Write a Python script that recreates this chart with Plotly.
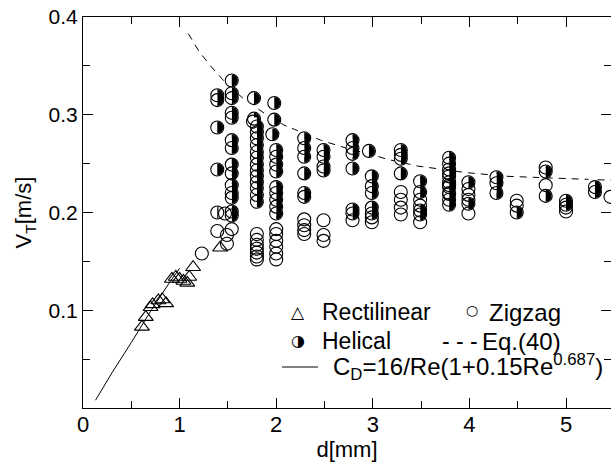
import plotly.graph_objects as go

# ---------------- data ----------------
rect_d = [0.61, 0.65, 0.70, 0.72, 0.78, 0.82, 0.86, 0.92, 0.96, 1.00, 1.04, 1.08, 1.10, 1.14, 1.42]
rect_v = [0.083, 0.093, 0.103, 0.106, 0.110, 0.111, 0.107, 0.132, 0.134, 0.132, 0.130, 0.128, 0.134, 0.144, 0.164]

zig_d = [1.23, 1.39, 1.49, 1.54, 1.49,
         1.76, 1.80, 1.80, 1.80, 1.80, 1.80, 1.80, 1.80,
         2.00, 2.00, 2.00, 2.00, 2.00, 2.00,
         2.29, 2.29, 2.29, 2.29,
         2.49, 2.49, 2.49,
         2.79,
         2.99, 2.99,
         3.29, 3.29, 3.29, 3.29,
         3.49, 3.49, 3.49,
         3.79, 3.79, 3.79,
         3.99, 3.99, 3.99, 3.99,
         4.49, 4.49,
         4.79, 4.79,
         5.00, 5.00,
         5.46]
zig_v = [0.158, 0.181, 0.177, 0.183, 0.168,
         0.293, 0.178, 0.172, 0.167, 0.163, 0.159, 0.155, 0.152,
         0.183, 0.178, 0.171, 0.165, 0.158, 0.152,
         0.193, 0.187, 0.182, 0.178,
         0.192, 0.177, 0.171,
         0.192,
         0.195, 0.190,
         0.221, 0.213, 0.205, 0.198,
         0.213, 0.207, 0.190,
         0.240, 0.228, 0.220,
         0.224, 0.218, 0.213, 0.199,
         0.212, 0.207,
         0.246, 0.228,
         0.205, 0.201,
         0.216]

hel_d = [1.39, 1.39, 1.39, 1.39, 1.39, 1.47,
         1.54, 1.54, 1.54, 1.54, 1.54, 1.54, 1.54, 1.54, 1.54, 1.54, 1.54, 1.54, 1.54, 1.54,
         1.77, 1.77, 1.80, 1.80, 1.80, 1.80, 1.80, 1.80, 1.80, 1.80, 1.80, 1.80, 1.80, 1.80, 1.80,
         1.98, 1.98, 1.96, 2.00, 2.00, 2.00, 2.00, 2.00, 2.00, 2.00, 2.00, 2.00,
         2.29, 2.29, 2.29, 2.29, 2.29, 2.29,
         2.49, 2.49, 2.49, 2.49,
         2.79, 2.79, 2.79, 2.79, 2.79, 2.79,
         2.96,
         2.99, 2.99, 2.99, 2.99, 2.99,
         3.29, 3.29, 3.29, 3.29,
         3.49, 3.49, 3.49, 3.49,
         3.79, 3.79, 3.79, 3.79, 3.79, 3.79, 3.79, 3.79, 3.79,
         3.99, 3.99,
         4.28, 4.28, 4.28,
         4.49,
         4.79, 4.79,
         5.00, 5.00,
         5.30, 5.30]
hel_v = [0.320, 0.315, 0.287, 0.244, 0.200, 0.199,
         0.335, 0.322, 0.317, 0.302, 0.297, 0.274, 0.266, 0.249, 0.240, 0.228, 0.220, 0.215, 0.201, 0.197,
         0.317, 0.296, 0.288, 0.282, 0.276, 0.269, 0.262, 0.256, 0.249, 0.243, 0.237, 0.231, 0.225, 0.218, 0.211,
         0.312, 0.295, 0.280, 0.264, 0.257, 0.249, 0.242, 0.226, 0.220, 0.213, 0.206, 0.199,
         0.276, 0.266, 0.257, 0.240, 0.220, 0.216,
         0.264, 0.257, 0.247, 0.243,
         0.274, 0.266, 0.260, 0.245, 0.203, 0.199,
         0.263,
         0.237, 0.227, 0.220, 0.205, 0.199,
         0.264, 0.259, 0.255, 0.240,
         0.232, 0.221, 0.202, 0.198,
         0.256, 0.250, 0.244, 0.237, 0.231, 0.226, 0.219, 0.213, 0.208,
         0.231, 0.209,
         0.236, 0.230, 0.220,
         0.200,
         0.242, 0.217,
         0.212, 0.208,
         0.226, 0.221]

eq40_d = [1.09, 1.20, 1.32, 1.50, 1.68, 1.90, 2.08, 2.30, 2.46, 2.73, 3.00, 3.15, 3.46, 3.975, 4.40, 4.66, 5.00, 5.47]
eq40_v = [0.383, 0.365, 0.350, 0.330, 0.315, 0.300, 0.2895, 0.281, 0.274, 0.2657, 0.259, 0.2544, 0.2476, 0.2407, 0.237, 0.236, 0.2345, 0.233]

cd_d = [0.13, 0.30, 0.50, 0.70, 0.90, 1.00]
cd_v = [0.008, 0.036, 0.067, 0.099, 0.129, 0.143]

x_ticks = [0, 1, 2, 3, 4, 5]
y_ticks = [0.1, 0.2, 0.3, 0.4]

# ---------------- figure ----------------
W, H = 611, 464
ML, MR, MT, MB = 83, 0, 17, 56
PW, PH = W - ML - MR, H - MT - MB
FONT = "Liberation Sans, Arial, Helvetica, sans-serif"
GLYPH = "DejaVu Sans"
MS = 13  # marker diameter in px

fig = go.Figure()

fig.add_trace(go.Scatter(x=cd_d, y=cd_v, mode="lines",
                         line=dict(color="black", width=1), showlegend=False))
fig.add_trace(go.Scatter(x=eq40_d, y=eq40_v, mode="lines",
                         line=dict(color="black", width=1, dash="7px,6px"), showlegend=False))
# helical: black disc, left half masked in white, outline on top
fig.add_trace(go.Scatter(x=hel_d, y=hel_v, mode="markers",
                         marker=dict(symbol="circle", size=MS - 1, color="black",
                                     line=dict(width=0)),
                         showlegend=False, hoverinfo="skip"))
fig.add_trace(go.Scatter(x=hel_d, y=hel_v, mode="markers",
                         marker=dict(symbol="line-ew", size=MS, color="white",
                                     angle=90, standoff=MS / 4,
                                     line=dict(width=MS / 2, color="white")),
                         showlegend=False, hoverinfo="skip"))
fig.add_trace(go.Scatter(x=zig_d, y=zig_v, mode="markers",
                         marker=dict(symbol="circle-open", size=MS, color="black",
                                     line=dict(width=1.1, color="black")),
                         showlegend=False))
fig.add_trace(go.Scatter(x=hel_d, y=hel_v, mode="markers",
                         marker=dict(symbol="circle-open", size=MS, color="black",
                                     line=dict(width=1.1, color="black")),
                         showlegend=False))
fig.add_trace(go.Scatter(x=rect_d, y=rect_v, mode="markers",
                         marker=dict(symbol="triangle-up-open", size=MS, color="black",
                                     line=dict(width=1.1, color="black")),
                         showlegend=False))


def pp(px, py):
    return (px - ML) / PW, (MT + PH - py) / PH


ann = []


def add_text(px, py, text, size=23, family=FONT, xanchor="left"):
    x, y = pp(px, py)
    ann.append(dict(x=x, y=y, xref="paper", yref="paper", text=text, showarrow=False,
                    xanchor=xanchor, yanchor="middle", font=dict(family=family, size=size, color="black")))


add_text(298, 312, "\u25B3", size=17, family=GLYPH, xanchor="center")
add_text(320, 312, "Rectilinear")
add_text(472, 310, "\u25CB", size=14, family=GLYPH, xanchor="center")
add_text(487, 312, "Zigzag", size=24)
add_text(298, 340, "\u25D1", size=16, family=GLYPH, xanchor="center")
add_text(320, 341, "Helical")
add_text(440, 341, "- - -")
add_text(480, 341, "Eq.(40)", size=24)
add_text(331, 367, "C<sub>D</sub>=16/Re(1+0.15Re<sup>0.687</sup>)", size=24)

x0, y0 = pp(282, 367)
x1, _ = pp(318, 367)
shapes = [dict(type="line", xref="paper", yref="paper", x0=x0, x1=x1, y0=y0, y1=y0,
               line=dict(color="black", width=1))]

fig.update_layout(
    width=W, height=H,
    margin=dict(l=ML, r=MR, t=MT, b=MB),
    paper_bgcolor="white", plot_bgcolor="white",
    showlegend=False,
    annotations=ann, shapes=shapes,
    font=dict(family=FONT, color="black"),
)
fig.update_xaxes(range=[0, PW / 96.6], tickvals=x_ticks, ticktext=[str(t) for t in x_ticks],
                 ticks="inside", ticklen=10, tickwidth=1, tickcolor="black",
                 minor=dict(dtick=0.5, ticks="inside", ticklen=7, tickwidth=1, tickcolor="black"),
                 showline=True, linecolor="black", linewidth=1.2, mirror="ticks",
                 showgrid=False, zeroline=False, ticklabelstandoff=-4,
                 tickfont=dict(size=22, family=FONT),
                 title=dict(text="d[mm]", font=dict(size=22, family=FONT), standoff=6))
fig.update_yaxes(range=[0, 0.4], tickvals=y_ticks, ticktext=["0.1", "0.2", "0.3", "0.4"],
                 ticks="inside", ticklen=10, tickwidth=1, tickcolor="black",
                 minor=dict(dtick=0.05, ticks="inside", ticklen=7, tickwidth=1, tickcolor="black"),
                 showline=True, linecolor="black", linewidth=1.2, mirror="ticks",
                 showgrid=False, zeroline=False, ticklabelstandoff=0,
                 tickfont=dict(size=21, family=FONT),
                 title=dict(text="V<sub>T</sub>[m/s]", font=dict(size=22, family=FONT), standoff=10))

fig.write_html("out.html")
